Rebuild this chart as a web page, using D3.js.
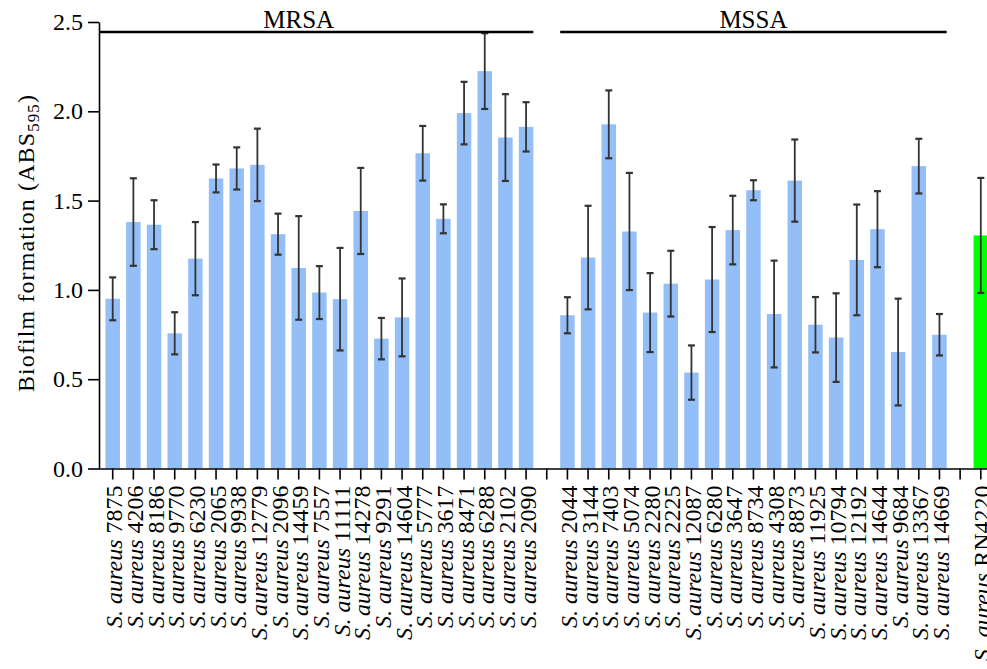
<!DOCTYPE html>
<html>
<head>
  <meta charset="utf-8">
  <title>Biofilm formation</title>
  <style>
  body { margin: 0; background: #fff; }
  svg { display: block; overflow: hidden; }
  </style>
</head>
<body>
  <svg width="987" height="669"></svg>
  <script src="https://d3js.org/d3.v7.min.js"></script>
  <script>
  // strains and values (mean, error)
  var mrsaStrains = ["7875", "4206", "8186", "9770", "6230", "2065", "9938", "12779", "2096", "14459", "7557",
                     "11111", "14278", "9291", "14604", "5777", "3617", "8471", "6288", "2102", "2090"];
  var mrsaMean = [0.95, 1.38, 1.365, 0.757, 1.175, 1.624, 1.68, 1.70, 1.312, 1.123, 0.985,
                  0.948, 1.442, 0.727, 0.846, 1.765, 1.398, 1.99, 2.225, 1.853, 1.913];
  var mrsaErr = [0.12, 0.245, 0.137, 0.118, 0.205, 0.078, 0.118, 0.203, 0.115, 0.29, 0.148,
                 0.287, 0.241, 0.116, 0.218, 0.153, 0.081, 0.175, 0.212, 0.243, 0.138];

  var mssaStrains = ["2044", "3144", "7403", "5074", "2280", "2225", "12087", "6280", "3647", "8734",
                     "4308", "8873", "11925", "10794", "12192", "14644", "9684", "13367", "14669"];
  var mssaMean = [0.858, 1.181, 1.927, 1.327, 0.873, 1.035, 0.537, 1.058, 1.335, 1.558,
                  0.865, 1.612, 0.805, 0.733, 1.168, 1.34, 0.652, 1.693, 0.749];
  var mssaErr = [0.101, 0.29, 0.19, 0.328, 0.221, 0.184, 0.152, 0.294, 0.192, 0.056,
                 0.299, 0.23, 0.155, 0.248, 0.31, 0.213, 0.299, 0.153, 0.116];

  var refStrains = ["RN4220"];
  var refMean = [1.305];
  var refErr = [0.322];

  var yTicks = [0, 0.5, 1.0, 1.5, 2.0, 2.5];

  var FONT = "Liberation Serif";

  // build rows, with empty slots between the groups
  var rows = [];
  function addGroup(group, strains, mean, err, color) {
    strains.forEach(function(s, i) {
      rows.push({key: group + s, strain: s, group: group, value: mean[i], err: err[i], color: color});
    });
  }
  addGroup("MRSA", mrsaStrains, mrsaMean, mrsaErr, "#93bef7");
  rows.push({key: "gap1", strain: null});
  addGroup("MSSA", mssaStrains, mssaMean, mssaErr, "#93bef7");
  rows.push({key: "gap2", strain: null});
  addGroup("REF", refStrains, refMean, refErr, "#00ff00");

  var svg = d3.select("svg").attr("font-family", FONT);
  var x0 = 99, y0 = 468.5;

  var x = d3.scaleBand()
    .domain(rows.map(function(d) { return d.key; }))
    .range([x0, 994.5])
    .paddingInner(0.3)
    .paddingOuter(0.313);

  var y = d3.scaleLinear()
    .domain([0, 2.5])
    .range([y0, 22]);

  var byKey = {};
  rows.forEach(function(d) { byKey[d.key] = d; });

  // bars
  var bars = rows.filter(function(d) { return d.strain; });
  svg.append("g").selectAll("rect")
    .data(bars)
    .join("rect")
    .attr("x", function(d) { return x(d.key); })
    .attr("width", x.bandwidth())
    .attr("y", function(d) { return y(d.value); })
    .attr("height", function(d) { return y(0) - y(d.value); })
    .attr("fill", function(d) { return d.color; });

  // error bars
  var eb = svg.append("g")
    .attr("stroke", "#333")
    .attr("stroke-width", 1.8);
  var cap = 3.5;
  bars.forEach(function(d) {
    var cx = x(d.key) + x.bandwidth() / 2;
    var top = y(d.value + d.err), bot = y(d.value - d.err);
    eb.append("line").attr("x1", cx).attr("x2", cx).attr("y1", top).attr("y2", bot);
    eb.append("line").attr("x1", cx - cap).attr("x2", cx + cap).attr("y1", top).attr("y2", top).attr("stroke-width", 2.2);
    eb.append("line").attr("x1", cx - cap).attr("x2", cx + cap).attr("y1", bot).attr("y2", bot).attr("stroke-width", 2.2);
  });

  // y axis
  var yAxis = svg.append("g")
    .attr("transform", "translate(" + x0 + ",0)")
    .call(d3.axisLeft(y).tickValues(yTicks).tickFormat(d3.format(".1f")).tickSize(11).tickSizeOuter(0).tickPadding(5))
    .attr("font-family", FONT)
    .attr("font-size", 24);
  yAxis.select(".domain").attr("stroke-width", 1.6);
  yAxis.selectAll(".tick line").attr("stroke-width", 1.6);

  // x axis
  var xAxis = svg.append("g")
    .attr("transform", "translate(0," + y0 + ")")
    .call(d3.axisBottom(x).tickSize(11).tickSizeOuter(0).tickFormat(""))
    .attr("font-family", FONT)
    .attr("font-size", 24);
  xAxis.select(".domain").attr("stroke-width", 1.6).attr("d", "M" + x0 + ",0.5H994.5");
  xAxis.selectAll(".tick line").attr("stroke-width", 1.6);
  xAxis.selectAll(".tick text").remove();

  xAxis.selectAll(".tick")
    .filter(function(k) { return byKey[k].strain; })
    .append("text")
    .attr("transform", "translate(0,17) rotate(-90)")
    .attr("text-anchor", "end")
    .attr("dy", "0.4em")
    .attr("fill", "#000")
    .each(function(k) {
      var t = d3.select(this);
      t.append("tspan").attr("font-style", "italic").text("S. aureus");
      t.append("tspan").text(" " + byKey[k].strain);
    });

  // y label
  var yl = svg.append("text")
    .attr("transform", "translate(34,243) rotate(-90)")
    .attr("text-anchor", "middle")
    .attr("font-size", 24)
    .attr("letter-spacing", "1.1px");
  yl.append("tspan").text("Biofilm formation (ABS");
  yl.append("tspan").attr("font-size", 17).attr("dy", "5").text("595");
  yl.append("tspan").attr("dy", "-5").text(")");

  // group brackets
  var groups = [
    {name: "MRSA", strains: mrsaStrains},
    {name: "MSSA", strains: mssaStrains}
  ];
  groups.forEach(function(g, i) {
    var first = x(g.name + g.strains[0]);
    var last = x(g.name + g.strains[g.strains.length - 1]) + x.bandwidth();
    var x1 = i === 0 ? x0 : first;
    svg.append("line")
      .attr("x1", x1).attr("x2", last)
      .attr("y1", 32).attr("y2", 32)
      .attr("stroke", "#000").attr("stroke-width", 2.4);
    svg.append("text")
      .attr("x", x(g.name + g.strains[9]) + x.bandwidth() / 2)
      .attr("y", 28)
      .attr("text-anchor", "middle")
      .attr("font-size", 25)
      .text(g.name);
  });
  </script>
</body>
</html>
